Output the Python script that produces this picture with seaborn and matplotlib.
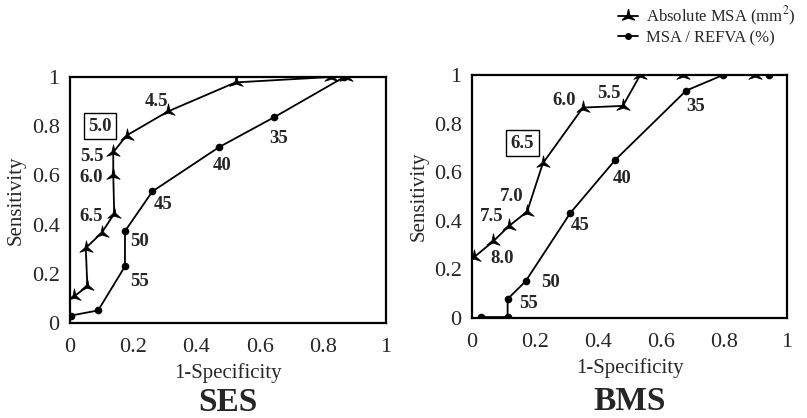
import numpy as np
import pandas as pd
import matplotlib
matplotlib.use("Agg")
import matplotlib.pyplot as plt
from matplotlib.path import Path
import seaborn as sns

# SES : Absolute MSA (mm2)
ses_abs_x = [0.013, 0.055, 0.05, 0.10, 0.14, 0.137, 0.137, 0.179, 0.31, 0.524, 0.826, 0.874]
ses_abs_y = [0.108, 0.149, 0.305, 0.366, 0.444, 0.603, 0.694, 0.762, 0.86, 0.978, 1.0, 1.0]
# SES : MSA / REFVA (%)
ses_rel_x = [0.002, 0.089, 0.174, 0.174, 0.261, 0.472, 0.647, 0.868]
ses_rel_y = [0.03, 0.051, 0.23, 0.373, 0.535, 0.715, 0.837, 1.0]

# BMS : Absolute MSA (mm2)
bms_abs_x = [0.007, 0.067, 0.116, 0.175, 0.225, 0.352, 0.479, 0.534, 0.67, 0.90]
bms_abs_y = [0.251, 0.315, 0.377, 0.438, 0.637, 0.866, 0.873, 1.0, 1.0, 1.0]
# BMS : MSA / REFVA (%)
bms_rel_x = [0.029, 0.113, 0.113, 0.17, 0.312, 0.455, 0.68, 0.797, 0.944]
bms_rel_y = [0.004, 0.004, 0.078, 0.151, 0.432, 0.651, 0.936, 1.0, 1.0]

# annotations des seuils
ses_abs_labels = ["4.5", "5.5", "6.0", "6.5"]
ses_abs_lab_xy = [(0.274, 0.90), (0.068, 0.678), (0.068, 0.59), (0.068, 0.434)]
ses_rel_labels = ["55", "50", "45", "40", "35"]
ses_rel_lab_xy = [(0.22, 0.17), (0.22, 0.33), (0.295, 0.48), (0.48, 0.64), (0.66, 0.75)]
ses_box = ("5.0", (0.095, 0.80))

bms_abs_labels = ["8.0", "7.5", "7.0", "6.0", "5.5"]
bms_abs_lab_xy = [(0.095, 0.243), (0.063, 0.418), (0.127, 0.50), (0.291, 0.897), (0.434, 0.925)]
bms_rel_labels = ["55", "50", "45", "40", "35"]
bms_rel_lab_xy = [(0.18, 0.06), (0.25, 0.147), (0.344, 0.38), (0.476, 0.575), (0.709, 0.87)]
bms_box = ("6.5", (0.159, 0.72))

ticks = [0, 0.2, 0.4, 0.6, 0.8, 1]
tick_labels = ["0", "0.2", "0.4", "0.6", "0.8", "1"]

sns.set_style("white")
plt.rcParams["font.family"] = ["Liberation Serif", "DejaVu Serif"]
plt.rcParams["mathtext.fontset"] = "stix"

fig = plt.figure(figsize=(8.07, 4.18), dpi=100)
ax1 = fig.add_axes([0.0867, 0.2273, 0.3916, 0.5885])
ax2 = fig.add_axes([0.5849, 0.2392, 0.3903, 0.5813])

# marqueur étoile à 3 branches (pointes fines)
ang = np.deg2rad(90 + np.arange(6) * 60)
rad = np.array([1.0, 0.22] * 3)
verts = np.column_stack([rad * np.cos(ang), rad * np.sin(ang)])
tri = Path(np.vstack([verts, verts[:1]]), closed=True)


def draw_panel(ax, ax_, ay_, rx, ry, abs_labels, abs_xy, rel_labels, rel_xy, box, title, ty):
    sns.lineplot(x=ax_, y=ay_, sort=False, estimator=None, ax=ax, color="black",
                 lw=1.3, marker=tri, markersize=11, markeredgewidth=0.6,
                 markerfacecolor="black", markeredgecolor="black")
    sns.lineplot(x=rx, y=ry, sort=False, estimator=None, ax=ax, color="black",
                 lw=1.3, marker="o", markersize=5.5, markeredgewidth=0,
                 markerfacecolor="black")
    for lab, (x, y) in zip(abs_labels + rel_labels, abs_xy + rel_xy):
        ax.text(x, y, lab, fontsize=13.5, fontweight="bold", ha="center", va="center")
    ax.text(box[1][0], box[1][1], box[0], fontsize=13.5, fontweight="bold",
            ha="center", va="center",
            bbox=dict(boxstyle="square,pad=0.25", fc="white", ec="black", lw=1))
    ax.set_xlim(0, 1)
    ax.set_ylim(0, 1)
    ax.set_xticks(ticks)
    ax.set_xticklabels(tick_labels, fontsize=16)
    ax.set_yticks(ticks)
    ax.set_yticklabels(tick_labels, fontsize=16)
    ax.set_xticks(np.arange(0.1, 1.0, 0.2), minor=True)
    ax.set_yticks(np.arange(0.1, 1.0, 0.2), minor=True)
    ax.tick_params(which="both", direction="inout", length=8, width=1, color="black")
    ax.tick_params(axis="x", which="both", pad=7)
    ax.set_xlabel("1-Specificity", fontsize=15, labelpad=4)
    ax.set_ylabel("Sensitivity", fontsize=15, labelpad=4)
    for s in ax.spines.values():
        s.set_color("black")
        s.set_linewidth(1.6)
    ax.text(0.5, ty, title, transform=ax.transAxes, fontsize=24, fontweight="bold",
            ha="center", va="center")


draw_panel(ax1, ses_abs_x, ses_abs_y, ses_rel_x, ses_rel_y, ses_abs_labels, ses_abs_lab_xy,
           ses_rel_labels, ses_rel_lab_xy, ses_box, "SES", -0.325)
draw_panel(ax2, bms_abs_x, bms_abs_y, bms_rel_x, bms_rel_y, bms_abs_labels, bms_abs_lab_xy,
           bms_rel_labels, bms_rel_lab_xy, bms_box, "BMS", -0.342)

# légende en haut à droite
h1 = plt.Line2D([], [], color="black", lw=1.3, marker=tri, markersize=10, markerfacecolor="black")
h2 = plt.Line2D([], [], color="black", lw=1.3, marker="o", markersize=5, markeredgewidth=0)
fig.legend([h1, h2], ["Absolute MSA (mm$^2$)", "MSA / REFVA (%)"], loc="upper left",
           bbox_to_anchor=(0.747, 1.025), frameon=False, fontsize=12, handlelength=1.2,
           handletextpad=0.5, labelspacing=0.15)

fig.savefig("out.png", dpi=100)
